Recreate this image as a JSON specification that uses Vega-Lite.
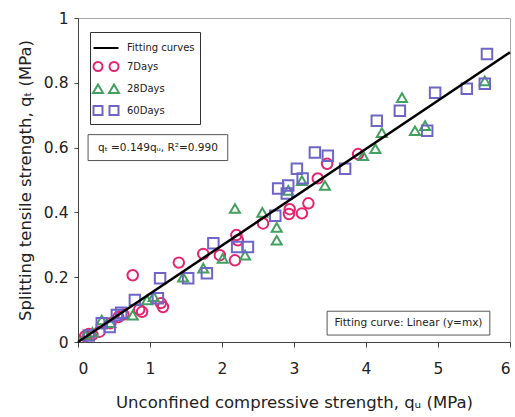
{
  "$schema": "https://vega.github.io/schema/vega-lite/v6.json",
  "width": 432,
  "height": 324,
  "autosize": {"type": "none"},
  "padding": {"left": 78, "top": 18, "right": 5, "bottom": 75},
  "background": "white",
  "config": {
    "font": "DejaVu Sans",
    "view": {"stroke": "#aaaaaa", "strokeWidth": 1},
    "axis": {"grid": false, "domainColor": "#444444", "tickColor": "#444444", "labelColor": "#222222", "titleColor": "#222222", "titleFontWeight": "normal", "labelFontSize": 15.5, "titleFontSize": 16.5},
    "legend": {"labelFontWeight": "normal", "labelColor": "#222222"}
  },
  "datasets": {
    "fit": [
      {"series": "Fitting curves", "qu": 0, "qt": 0},
      {"series": "Fitting curves", "qu": 6, "qt": 0.894}
    ],
    "pts": [
      {"series": "7Days", "qu": 0.10, "qt": 0.018},
      {"series": "7Days", "qu": 0.15, "qt": 0.025},
      {"series": "7Days", "qu": 0.20, "qt": 0.022},
      {"series": "7Days", "qu": 0.30, "qt": 0.032},
      {"series": "7Days", "qu": 0.45, "qt": 0.058},
      {"series": "7Days", "qu": 0.56, "qt": 0.077},
      {"series": "7Days", "qu": 0.63, "qt": 0.085},
      {"series": "7Days", "qu": 0.76, "qt": 0.206},
      {"series": "7Days", "qu": 0.85, "qt": 0.100},
      {"series": "7Days", "qu": 0.89, "qt": 0.093},
      {"series": "7Days", "qu": 1.15, "qt": 0.120},
      {"series": "7Days", "qu": 1.18, "qt": 0.108},
      {"series": "7Days", "qu": 1.40, "qt": 0.245},
      {"series": "7Days", "qu": 1.74, "qt": 0.272},
      {"series": "7Days", "qu": 1.97, "qt": 0.268},
      {"series": "7Days", "qu": 2.18, "qt": 0.252},
      {"series": "7Days", "qu": 2.20, "qt": 0.330},
      {"series": "7Days", "qu": 2.22, "qt": 0.314},
      {"series": "7Days", "qu": 2.57, "qt": 0.366},
      {"series": "7Days", "qu": 2.94, "qt": 0.410},
      {"series": "7Days", "qu": 2.93, "qt": 0.395},
      {"series": "7Days", "qu": 3.11, "qt": 0.397},
      {"series": "7Days", "qu": 3.20, "qt": 0.428},
      {"series": "7Days", "qu": 3.33, "qt": 0.505},
      {"series": "7Days", "qu": 3.46, "qt": 0.550},
      {"series": "7Days", "qu": 3.89, "qt": 0.580},
      {"series": "28Days", "qu": 0.10, "qt": 0.020},
      {"series": "28Days", "qu": 0.20, "qt": 0.030},
      {"series": "28Days", "qu": 0.33, "qt": 0.068},
      {"series": "28Days", "qu": 0.45, "qt": 0.060},
      {"series": "28Days", "qu": 0.76, "qt": 0.083},
      {"series": "28Days", "qu": 0.96, "qt": 0.130},
      {"series": "28Days", "qu": 1.05, "qt": 0.140},
      {"series": "28Days", "qu": 1.46, "qt": 0.200},
      {"series": "28Days", "qu": 1.74, "qt": 0.228},
      {"series": "28Days", "qu": 2.01, "qt": 0.258},
      {"series": "28Days", "qu": 2.18, "qt": 0.412},
      {"series": "28Days", "qu": 2.32, "qt": 0.268},
      {"series": "28Days", "qu": 2.56, "qt": 0.400},
      {"series": "28Days", "qu": 2.76, "qt": 0.354},
      {"series": "28Days", "qu": 2.76, "qt": 0.314},
      {"series": "28Days", "qu": 2.92, "qt": 0.468},
      {"series": "28Days", "qu": 3.11, "qt": 0.498},
      {"series": "28Days", "qu": 3.43, "qt": 0.483},
      {"series": "28Days", "qu": 3.96, "qt": 0.575},
      {"series": "28Days", "qu": 4.13, "qt": 0.597},
      {"series": "28Days", "qu": 4.22, "qt": 0.646},
      {"series": "28Days", "qu": 4.50, "qt": 0.754},
      {"series": "28Days", "qu": 4.68, "qt": 0.652},
      {"series": "28Days", "qu": 4.82, "qt": 0.668},
      {"series": "28Days", "qu": 5.65, "qt": 0.806},
      {"series": "60Days", "qu": 0.15, "qt": 0.020},
      {"series": "60Days", "qu": 0.33, "qt": 0.058},
      {"series": "60Days", "qu": 0.44, "qt": 0.046},
      {"series": "60Days", "qu": 0.54, "qt": 0.083},
      {"series": "60Days", "qu": 0.60, "qt": 0.090},
      {"series": "60Days", "qu": 0.79, "qt": 0.130},
      {"series": "60Days", "qu": 1.11, "qt": 0.135},
      {"series": "60Days", "qu": 1.14, "qt": 0.197},
      {"series": "60Days", "qu": 1.53, "qt": 0.197},
      {"series": "60Days", "qu": 1.79, "qt": 0.212},
      {"series": "60Days", "qu": 1.88, "qt": 0.305},
      {"series": "60Days", "qu": 2.21, "qt": 0.293},
      {"series": "60Days", "qu": 2.36, "qt": 0.293},
      {"series": "60Days", "qu": 2.74, "qt": 0.390},
      {"series": "60Days", "qu": 2.78, "qt": 0.474},
      {"series": "60Days", "qu": 2.90, "qt": 0.458},
      {"series": "60Days", "qu": 2.92, "qt": 0.483},
      {"series": "60Days", "qu": 3.04, "qt": 0.535},
      {"series": "60Days", "qu": 3.12, "qt": 0.505},
      {"series": "60Days", "qu": 3.29, "qt": 0.585},
      {"series": "60Days", "qu": 3.47, "qt": 0.575},
      {"series": "60Days", "qu": 3.71, "qt": 0.535},
      {"series": "60Days", "qu": 4.15, "qt": 0.683},
      {"series": "60Days", "qu": 4.47, "qt": 0.714},
      {"series": "60Days", "qu": 4.85, "qt": 0.652},
      {"series": "60Days", "qu": 4.96, "qt": 0.769},
      {"series": "60Days", "qu": 5.40, "qt": 0.782},
      {"series": "60Days", "qu": 5.65, "qt": 0.797},
      {"series": "60Days", "qu": 5.68, "qt": 0.889}
    ]
  },
  "layer": [
    {
      "data": {"name": "pts"},
      "mark": {"type": "point", "filled": false, "strokeWidth": 2, "size": 0, "opacity": 0},
      "encoding": {
        "x": {"field": "qu", "type": "quantitative",
          "scale": {"domain": [0, 6], "nice": false},
          "axis": {"values": [0, 1, 2, 3, 4, 5, 6], "format": "d", "tickSize": 5, "labelPadding": 14, "titlePadding": 18,
            "title": "Unconfined compressive strength, qᵤ (MPa)"}},
        "y": {"field": "qt", "type": "quantitative",
          "scale": {"domain": [0, 1], "nice": false},
          "axis": {"values": [0, 0.05, 0.1, 0.15, 0.2, 0.25, 0.3, 0.35, 0.4, 0.45, 0.5, 0.55, 0.6, 0.65, 0.7, 0.75, 0.8, 0.85, 0.9, 0.95, 1],
            "labelExpr": "abs(datum.value*5 - round(datum.value*5)) < 0.001 ? format(datum.value, '~g') : ''",
            "tickSize": 4, "labelPadding": 6, "titlePadding": 10,
            "title": "Splitting tensile strength, qₜ (MPa)"}},
        "color": {"field": "series", "type": "nominal",
          "scale": {"domain": ["Fitting curves", "7Days", "28Days", "60Days"], "range": ["#000000", "#e5246e", "#43a05e", "#6e66c6"]},
          "legend": {"orient": "none", "legendX": 12, "legendY": 14, "title": null, "strokeColor": "#333333", "fillColor": "white",
            "padding": 5, "symbolSize": 400, "symbolOpacity": 1, "symbolStrokeWidth": 2, "symbolFillColor": "transparent",
            "labelFontSize": 10, "labelFontWeight": "normal", "labelOffset": 10, "rowPadding": 2.5}},
        "shape": {"field": "series", "type": "nominal",
          "scale": {"domain": ["Fitting curves", "7Days", "28Days", "60Days"],
            "range": ["M-1.25,0H1.25",
              "M-1.25,0a0.45,0.45 0 1,0 0.9,0a0.45,0.45 0 1,0 -0.9,0M0.35,0a0.45,0.45 0 1,0 0.9,0a0.45,0.45 0 1,0 -0.9,0",
              "M-0.8,-0.45L-0.3,0.4L-1.3,0.4ZM0.8,-0.45L1.3,0.4L0.3,0.4Z",
              "M-1.25,-0.45h0.9v0.9h-0.9ZM0.35,-0.45h0.9v0.9h-0.9Z"]},
          "legend": {"orient": "none", "legendX": 12, "legendY": 14, "title": null, "strokeColor": "#333333", "fillColor": "white",
            "padding": 5, "symbolSize": 400, "symbolOpacity": 1, "symbolStrokeWidth": 2, "symbolFillColor": "transparent",
            "labelFontSize": 10, "labelFontWeight": "normal", "labelOffset": 10, "rowPadding": 2.5}}
      }
    },
    {
      "data": {"name": "pts"},
      "transform": [{"filter": "datum.series === '7Days'"}],
      "mark": {"type": "point", "shape": "circle", "filled": false, "strokeWidth": 2, "size": 110, "opacity": 1},
      "encoding": {
        "x": {"field": "qu", "type": "quantitative"},
        "y": {"field": "qt", "type": "quantitative"},
        "color": {"field": "series", "type": "nominal", "legend": null}}
    },
    {
      "data": {"name": "pts"},
      "transform": [{"filter": "datum.series === '28Days'"}],
      "mark": {"type": "point", "shape": "triangle-up", "filled": false, "strokeWidth": 2, "size": 100, "opacity": 1},
      "encoding": {
        "x": {"field": "qu", "type": "quantitative"},
        "y": {"field": "qt", "type": "quantitative"},
        "color": {"field": "series", "type": "nominal", "legend": null}}
    },
    {
      "data": {"name": "pts"},
      "transform": [{"filter": "datum.series === '60Days'"}],
      "mark": {"type": "point", "shape": "square", "filled": false, "strokeWidth": 2, "size": 110, "opacity": 1},
      "encoding": {
        "x": {"field": "qu", "type": "quantitative"},
        "y": {"field": "qt", "type": "quantitative"},
        "color": {"field": "series", "type": "nominal", "legend": null}}
    },
    {
      "data": {"name": "fit"},
      "mark": {"type": "line", "strokeWidth": 2.5},
      "encoding": {
        "x": {"field": "qu", "type": "quantitative"},
        "y": {"field": "qt", "type": "quantitative"},
        "color": {"field": "series", "type": "nominal", "legend": null}}
    },
    {
      "data": {"values": [{"label": "qₜ =0.149qᵤ, R²=0.990"}]},
      "mark": {"type": "rect", "fill": "white", "stroke": "#555555", "strokeWidth": 1},
      "encoding": {
        "x": {"datum": 0.14, "type": "quantitative"},
        "x2": {"datum": 2.08},
        "y": {"datum": 0.64, "type": "quantitative"},
        "y2": {"datum": 0.56}
      }
    },
    {
      "data": {"values": [{"label": "qₜ =0.149qᵤ, R²=0.990"}]},
      "mark": {"type": "text", "fontSize": 10.5, "color": "#222222", "align": "center", "baseline": "middle"},
      "encoding": {
        "x": {"datum": 1.11, "type": "quantitative"},
        "y": {"datum": 0.6, "type": "quantitative"},
        "text": {"field": "label"}
      }
    },
    {
      "data": {"values": [{"label": "Fitting curve: Linear (y=mx)"}]},
      "mark": {"type": "rect", "fill": "white", "stroke": "#555555", "strokeWidth": 1},
      "encoding": {
        "x": {"datum": 3.46, "type": "quantitative"},
        "x2": {"datum": 5.72},
        "y": {"datum": 0.095, "type": "quantitative"},
        "y2": {"datum": 0.0215}
      }
    },
    {
      "data": {"values": [{"label": "Fitting curve: Linear (y=mx)"}]},
      "mark": {"type": "text", "fontSize": 10.5, "color": "#222222", "align": "center", "baseline": "middle"},
      "encoding": {
        "x": {"datum": 4.59, "type": "quantitative"},
        "y": {"datum": 0.058, "type": "quantitative"},
        "text": {"field": "label"}
      }
    }
  ]
}
